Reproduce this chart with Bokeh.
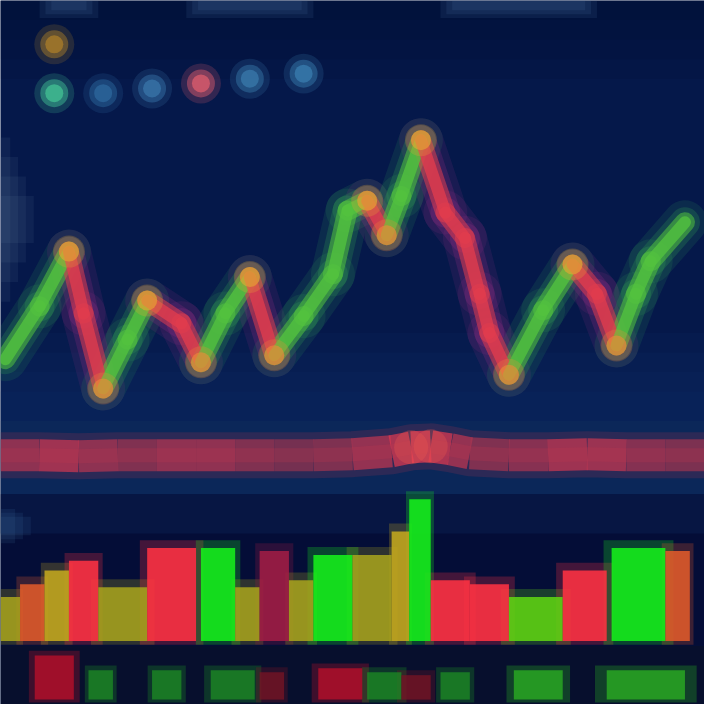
from bokeh.plotting import figure
from bokeh.models import ColumnDataSource, Range1d, BoxAnnotation
from bokeh.embed import file_html
from bokeh.resources import INLINE

# ---------------- data ----------------
# price line (day, price)
price_days = [0.5, 4, 7, 8.5, 10.5, 13, 15, 18.5, 20.5, 23, 25.5, 28, 31, 34, 35.5,
              37.5, 39.5, 41, 43, 45.5, 47.5, 49, 50, 52, 55.5, 58.5, 61, 63, 65, 66.5, 70]
prices = [133.3, 146.8, 160.8, 145.0, 125.8, 138.3, 148.3, 142.5, 132.5, 145.0, 154.3,
          134.3, 144.3, 155.0, 171.3, 173.8, 165.0, 175.0, 189.3, 170.8, 164.3, 150.0,
          140.0, 129.3, 145.8, 157.5, 150.0, 136.8, 150.0, 158.3, 168.3]

# indicator signal dots (top-left)
signal_days = [5.5, 5.5, 10.5, 15.5, 20.5, 25.5, 31.0]
signal_level = [213.8, 201.3, 201.3, 202.5, 203.8, 205.0, 206.3]
signal_colors = ["#b08028", "#45c896", "#2d6aa0", "#3a78ac", "#e4606e", "#3a7cae", "#3a80b2"]

# oscillator band
osc_days = [0, 4, 8, 12, 16, 20, 24, 28, 32, 36, 40, 42, 44, 46, 48, 52, 56, 60, 64, 68, 72]
osc_values = [0, 0, -1, 0, 0, 0, 0, 0, 0, 1, 4, 8, 9, 6, 2, 0, 0, 1, 0, 0, 0]
osc_strength = [0.45, 0.75, 0.85, 0.35, 0.55, 0.7, 0.55, 0.35, 0.3, 0.55, 0.8, 1.0, 1.0,
                0.85, 0.5, 0.4, 0.65, 0.9, 0.6, 0.4, 0.4]

# volume bars
vol_start = [0, 2, 4.5, 7, 10, 15, 20.5, 24, 26.5, 29.5, 32, 36, 40, 41.8, 44, 48, 52, 57.5, 62.5, 68]
vol_end = [2, 4.5, 7, 10, 15, 20, 24, 26.5, 29.5, 32, 36, 40, 41.8, 44, 48, 52, 57.5, 62, 68, 70.5]
volumes = [45, 58, 72, 82, 55, 95, 95, 55, 92, 62, 88, 88, 112, 145, 62, 58, 45, 72, 95, 92]
vol_kind = ["flat", "warm", "gold", "down", "flat", "down", "up", "flat", "dim", "flat",
            "up", "flat", "gold", "up", "down", "down", "lime", "down", "up", "warm"]

# lower histogram
low_start = [3.5, 9, 15.5, 21.5, 26.5, 32.5, 37.5, 41, 45, 52.5, 62]
low_end = [7.5, 11.5, 18.5, 26, 29, 37, 41, 44, 48, 57.5, 70]
low_values = [45, 30, 30, 30, 28, 32, 28, 25, 28, 30, 30]
low_kind = ["down", "up", "up", "up", "dim", "down", "up", "dim", "up", "lime", "lime"]

# ---------------- styling ----------------
kind_color = {"flat": "#a6a21c", "gold": "#c4a81e", "warm": "#e05a2a", "down": "#ff3242",
              "dim": "#a01c44", "up": "#16f01a", "lime": "#5ed412"}
low_color = {"down": "#c0102a", "dim": "#7a1424", "up": "#1d8e24", "lime": "#2cb422"}

p = figure(width=704, height=704, x_range=Range1d(0, 72), y_range=Range1d(45, 225),
           output_backend="svg", toolbar_location=None, min_border=0,
           background_fill_color="#05184a", border_fill_color="#05184a",
           outline_line_color=None)
p.axis.visible = False
p.grid.visible = False
p.extra_y_ranges = {"osc": Range1d(-255, 465), "vol": Range1d(-65, 655), "low": Range1d(-5, 715)}


def box(**kw):
    a = kw.pop("alpha")
    p.add_layout(BoxAnnotation(fill_alpha=a, line_alpha=0, level="underlay", **kw))


# soft background shading (price panel)
for i in range(4):
    box(bottom=117.5, top=140 - i * 5, fill_color="#0d3468", alpha=0.14)
for i in range(4):
    box(bottom=205 + i * 5, top=225, fill_color="#010c30", alpha=0.15)
# faint axis-label glows
for i in range(4):
    box(left=0, right=1.0 + i * 0.8, bottom=148 + i * 5, top=190 - i * 5, fill_color="#6a88a8", alpha=0.1)
for l, r in [(4, 10), (19, 32), (45, 61)]:
    for i in range(3):
        box(left=l + i * 0.6, right=r - i * 0.6, bottom=220.5 + i, top=225, fill_color="#5a86b8", alpha=0.12)
# oscillator strip
box(y_range_name="osc", bottom=-40, top=35, fill_color="#0c2c5c", alpha=0.8)
# volume panel background
box(y_range_name="vol", bottom=-5, top=150, fill_color="#050c34", alpha=0.85)
box(y_range_name="vol", bottom=110, top=150, fill_color="#0a2050", alpha=0.5)
for i in range(3):
    box(y_range_name="vol", left=0, right=1.5 + i * 0.8, bottom=100 + i * 4, top=135 - i * 4,
        fill_color="#3a6a9a", alpha=0.15)
# lower panel background
box(y_range_name="low", bottom=-5, top=55, fill_color="#080e2a", alpha=0.9)

# ---- price line ----
xs, ys, core_c, glow_c = [], [], [], []
for i in range(len(prices) - 1):
    xs.append([price_days[i], price_days[i + 1]])
    ys.append([prices[i], prices[i + 1]])
    up = prices[i + 1] > prices[i]
    core_c.append("#52c23e" if up else "#e03c4e")
    glow_c.append("#2f9a55" if up else "#8c2c80")
seg = ColumnDataSource(dict(xs=xs, ys=ys, core=core_c, glow=glow_c))
p.multi_line("xs", "ys", source=seg, line_color="glow", line_width=44, line_alpha=0.15, line_cap="round")
p.multi_line("xs", "ys", source=seg, line_color="glow", line_width=30, line_alpha=0.25, line_cap="round")
p.multi_line("xs", "ys", source=seg, line_color="core", line_width=20, line_alpha=0.55, line_cap="round")
p.multi_line("xs", "ys", source=seg, line_color="core", line_width=12, line_alpha=0.8, line_cap="round")

piv_x, piv_y, piv_c = [], [], []
for i in range(1, len(prices) - 1):
    prev, nxt = prices[i - 1], prices[i + 1]
    if (prices[i] > prev and prices[i] > nxt) or (prices[i] < prev and prices[i] < nxt):
        piv_x.append(price_days[i]); piv_y.append(prices[i])
        piv_c.append("#e8a832" if prices[i] > prev else "#f08a38")
pv = ColumnDataSource(dict(x=piv_x, y=piv_y, c=piv_c))
p.scatter("x", "y", source=pv, size=32, color="c", alpha=0.25, line_alpha=0)
p.scatter("x", "y", source=pv, size=20, color="c", alpha=0.6, line_alpha=0)

sig = ColumnDataSource(dict(x=signal_days, y=signal_level, c=signal_colors))
p.scatter("x", "y", source=sig, size=40, color="c", alpha=0.2, line_alpha=0)
p.scatter("x", "y", source=sig, size=28, color="c", alpha=0.45, line_alpha=0)
p.scatter("x", "y", source=sig, size=18, color="c", alpha=0.7, line_alpha=0)


# ---- oscillator band ----
def mix(a, b, t):
    a = [int(a[k:k + 2], 16) for k in (1, 3, 5)]
    b = [int(b[k:k + 2], 16) for k in (1, 3, 5)]
    return "#%02x%02x%02x" % tuple(int(a[j] + (b[j] - a[j]) * t) for j in range(3))


oxs, oys, oc = [], [], []
for i in range(len(osc_values) - 1):
    oxs.append([osc_days[i], osc_days[i + 1]])
    oys.append([osc_values[i], osc_values[i + 1]])
    s = (osc_strength[i] + osc_strength[i + 1]) / 2
    oc.append(mix("#6a3050", "#ec3a52", s))
osc = ColumnDataSource(dict(xs=oxs, ys=oys, c=oc))
p.line(osc_days, osc_values, line_color="#7a3050", line_width=46, line_alpha=0.3,
       line_join="round", y_range_name="osc")
p.multi_line("xs", "ys", source=osc, line_color="c", line_width=32, line_alpha=0.7,
             line_cap="butt", y_range_name="osc")
p.line(osc_days, osc_values, line_color="#c03850", line_width=14, line_alpha=0.25,
       line_join="round", y_range_name="osc")
ox = [osc_days[i] for i in range(len(osc_values)) if osc_strength[i] >= 0.95]
oy = [osc_values[i] for i in range(len(osc_values)) if osc_strength[i] >= 0.95]
p.scatter(ox, oy, size=34, color="#f05a50", alpha=0.3, line_alpha=0, y_range_name="osc")

# ---- volume ----
vsrc = ColumnDataSource(dict(
    x=[(a + b) / 2 for a, b in zip(vol_start, vol_end)],
    w=[(b - a) for a, b in zip(vol_start, vol_end)],
    gw=[(b - a) * 1.3 for a, b in zip(vol_start, vol_end)],
    top=volumes,
    gtop=[v + 8 for v in volumes],
    c=[kind_color[k] for k in vol_kind]))
p.vbar(x="x", width="gw", top="gtop", bottom=-4, source=vsrc, color="c", alpha=0.25,
       line_alpha=0, y_range_name="vol")
p.vbar(x="x", width="w", top="top", bottom=0, source=vsrc, color="c", alpha=0.88,
       line_alpha=0, y_range_name="vol")

# ---- lower histogram ----
lsrc = ColumnDataSource(dict(
    x=[(a + b) / 2 for a, b in zip(low_start, low_end)],
    w=[(b - a) for a, b in zip(low_start, low_end)],
    gw=[(b - a) * 1.3 for a, b in zip(low_start, low_end)],
    top=low_values,
    gtop=[v + 5 for v in low_values],
    c=[low_color[k] for k in low_kind]))
p.vbar(x="x", width="gw", top="gtop", bottom=-3, source=lsrc, color="c", alpha=0.3,
       line_alpha=0, y_range_name="low")
p.vbar(x="x", width="w", top="top", bottom=0, source=lsrc, color="c", alpha=0.75,
       line_alpha=0, y_range_name="low")

html = file_html(p, INLINE)
html = html.replace("<body>", '<body style="background:#05184a;">', 1)
open("out.html", "w").write(html)
